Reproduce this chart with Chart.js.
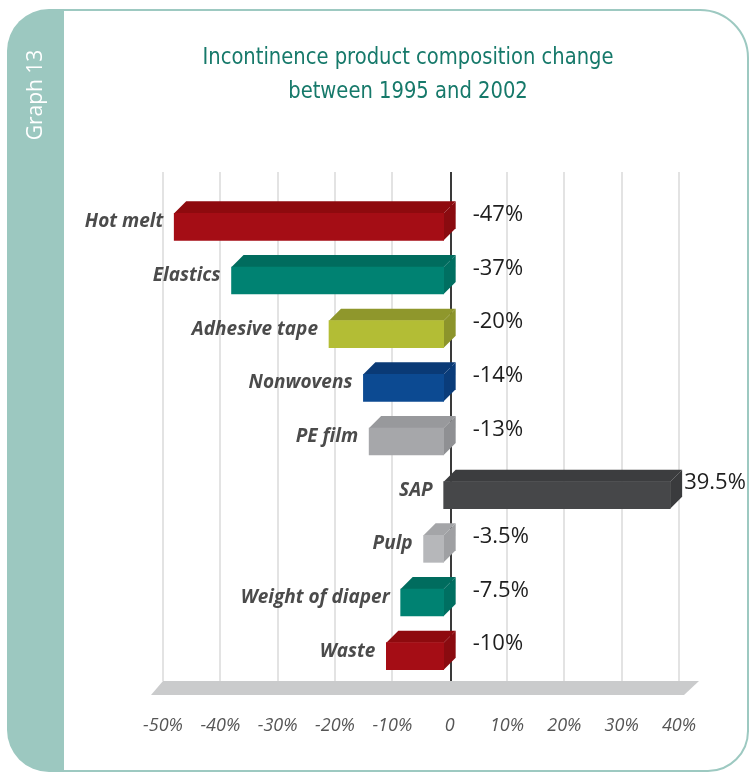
<!DOCTYPE html>
<html>
<head>
<meta charset="utf-8">
<script src="https://cdn.jsdelivr.net/npm/chart.js@4.4.1/dist/chart.umd.min.js"></script>
<style>
  html, body { margin: 0; padding: 0; background: #fff; }
  canvas { display: block; }
</style>
</head>
<body>
<canvas id="chart" width="750" height="772"></canvas>
<script>
// data
const categories = ['Hot melt', 'Elastics', 'Adhesive tape', 'Nonwovens', 'PE film', 'SAP', 'Pulp', 'Weight of diaper', 'Waste'];
const changes = [-47, -37, -20, -14, -13, 39.5, -3.5, -7.5, -10];
const valueLabels = ['-47%', '-37%', '-20%', '-14%', '-13%', '39.5%', '-3.5%', '-7.5%', '-10%'];
const tickLabels = ['-50%', '-40%', '-30%', '-20%', '-10%', '0', '10%', '20%', '30%', '40%'];
const titleLines = ['Incontinence product composition change', 'between 1995 and 2002'];
const sideTitle = 'Graph 13';

// colours of the three visible faces of each bar
const frontColors = ['#a50d15', '#008272', '#b3bd35', '#0c4a92', '#a6a7aa', '#464749', '#b6b7ba', '#008272', '#a50d15'];
const topColors = ['#8e0a0e', '#006c5e', '#8f972c', '#0a3a76', '#98999c', '#3c3d3f', '#a4a5a8', '#006c5e', '#8e0a0e'];
const sideColors = ['#8a0b10', '#006f61', '#8c942b', '#0a3c7a', '#8f9093', '#3a3b3d', '#9fa0a3', '#006f61', '#8a0b10'];

const HALF = 6; // half of the bar depth

// frame, side tab and title
const framePlugin = {
  id: 'frame',
  beforeDraw(chart) {
    const ctx = chart.ctx;
    ctx.save();
    ctx.fillStyle = '#fff';
    ctx.fillRect(0, 0, chart.width, chart.height);

    ctx.strokeStyle = '#9dc9c1';
    ctx.lineWidth = 2;
    ctx.beginPath();
    ctx.moveTo(64, 10);
    ctx.lineTo(700, 10);
    ctx.arcTo(748, 10, 748, 58, 48);
    ctx.lineTo(748, 732);
    ctx.arcTo(748, 771, 708, 771, 40);
    ctx.lineTo(64, 771);
    ctx.stroke();

    ctx.fillStyle = '#9cc8c0';
    ctx.beginPath();
    ctx.moveTo(64, 9);
    ctx.lineTo(64, 772);
    ctx.lineTo(50, 772);
    ctx.arcTo(7, 772, 7, 730, 42);
    ctx.lineTo(7, 51);
    ctx.arcTo(7, 9, 49, 9, 42);
    ctx.closePath();
    ctx.fill();

    ctx.translate(36, 95);
    ctx.rotate(-Math.PI / 2);
    ctx.fillStyle = '#fff';
    ctx.font = '21px "Open Sans"';
    ctx.textAlign = 'center';
    ctx.textBaseline = 'middle';
    ctx.fillText(sideTitle, 0, 0);
    ctx.restore();

    ctx.save();
    ctx.font = '23px "DejaVu Sans Condensed"';
    const sx = Math.min(1, 411 / ctx.measureText(titleLines[0]).width);
    ctx.translate(408, 0);
    ctx.scale(sx, 1);
    ctx.fillStyle = '#16796a';
    ctx.textAlign = 'center';
    ctx.textBaseline = 'middle';
    ctx.fillText(titleLines[0], 0, 58);
    ctx.fillText(titleLines[1], 0, 92);
    ctx.restore();
  }
};

// grid, floor, zero line and the 3D faces; the front face is drawn by Chart.js, shifted
const depthPlugin = {
  id: 'depth',
  beforeDatasetsDraw(chart) {
    const ctx = chart.ctx;
    const xs = chart.scales.x;
    const area = chart.chartArea;
    const gTop = area.top - 22;
    const gBottom = area.bottom + 4;

    ctx.save();
    ctx.strokeStyle = '#e3e3e3';
    ctx.lineWidth = 2;
    xs.ticks.forEach(t => {
      if (t.value === 0) return;
      const px = Math.round(xs.getPixelForValue(t.value));
      ctx.beginPath();
      ctx.moveTo(px, gTop);
      ctx.lineTo(px, gBottom);
      ctx.stroke();
    });

    const zx = Math.round(xs.getPixelForValue(0)) + 1;
    ctx.strokeStyle = '#3a3a3a';
    ctx.beginPath();
    ctx.moveTo(zx, gTop);
    ctx.lineTo(zx, gBottom + 1);
    ctx.stroke();

    // floor
    const fl = xs.getPixelForValue(xs.min);
    const fr = xs.getPixelForValue(xs.max) + 20;
    ctx.fillStyle = '#cacbcc';
    ctx.beginPath();
    ctx.moveTo(fl, gBottom);
    ctx.lineTo(fr, gBottom);
    ctx.lineTo(fr - 15, gBottom + 14);
    ctx.lineTo(fl - 12, gBottom + 14);
    ctx.closePath();
    ctx.fill();

    // top and side faces
    const meta = chart.getDatasetMeta(0);
    meta.data.forEach((bar, i) => {
      const left = Math.min(bar.x, bar.base);
      const right = Math.max(bar.x, bar.base);
      const top = bar.y - bar.height / 2;
      const bottom = bar.y + bar.height / 2;
      ctx.fillStyle = topColors[i];
      ctx.beginPath();
      ctx.moveTo(left - HALF, top + HALF);
      ctx.lineTo(left + HALF, top - HALF);
      ctx.lineTo(right + HALF, top - HALF);
      ctx.lineTo(right - HALF, top + HALF);
      ctx.closePath();
      ctx.fill();
      ctx.fillStyle = sideColors[i];
      ctx.beginPath();
      ctx.moveTo(right - HALF, top + HALF);
      ctx.lineTo(right + HALF, top - HALF);
      ctx.lineTo(right + HALF, bottom - HALF);
      ctx.lineTo(right - HALF, bottom + HALF);
      ctx.closePath();
      ctx.fill();
    });
    ctx.restore();

    ctx.save();
    ctx.translate(-HALF, HALF);
  },
  afterDatasetsDraw(chart) {
    const ctx = chart.ctx;
    ctx.restore();

    const xs = chart.scales.x;
    const zero = xs.getPixelForValue(0);
    const meta = chart.getDatasetMeta(0);
    ctx.save();
    meta.data.forEach((bar, i) => {
      const left = Math.min(bar.x, bar.base);
      const right = Math.max(bar.x, bar.base);

      ctx.font = 'italic bold 19px "Open Sans"';
      ctx.fillStyle = '#4b4b4b';
      ctx.textAlign = 'right';
      ctx.textBaseline = 'middle';
      ctx.fillText(categories[i], left - HALF - 11, bar.y + 1);

      ctx.font = '22px "Open Sans"';
      ctx.fillStyle = '#1e1e1e';
      ctx.textAlign = 'left';
      const vx = changes[i] < 0 ? zero + 23 : right + HALF + 2;
      ctx.fillText(valueLabels[i], vx, bar.y - 6);
    });
    ctx.restore();
  }
};

const ctx = document.getElementById('chart').getContext('2d');
const chart = new Chart(ctx, {
  type: 'bar',
  data: {
    labels: categories,
    datasets: [{
      data: changes,
      backgroundColor: frontColors,
      borderWidth: 0,
      barThickness: 27,
      clip: false
    }]
  },
  options: {
    indexAxis: 'y',
    responsive: false,
    animation: false,
    devicePixelRatio: 1,
    layout: { padding: { left: 163, right: 71, top: 194, bottom: 0 } },
    plugins: {
      legend: { display: false },
      tooltip: { enabled: false },
      title: { display: false }
    },
    scales: {
      x: {
        type: 'linear',
        min: -50,
        max: 40,
        grid: { display: false },
        border: { display: false },
        ticks: {
          stepSize: 10,
          padding: 30,
          color: '#555',
          font: { family: 'Open Sans', size: 18, style: 'italic' },
          callback: (v, i) => tickLabels[i]
        },
        afterFit: scale => { scale.height = 95; }
      },
      y: {
        display: false
      }
    }
  },
  plugins: [framePlugin, depthPlugin]
});
</script>
</body>
</html>
